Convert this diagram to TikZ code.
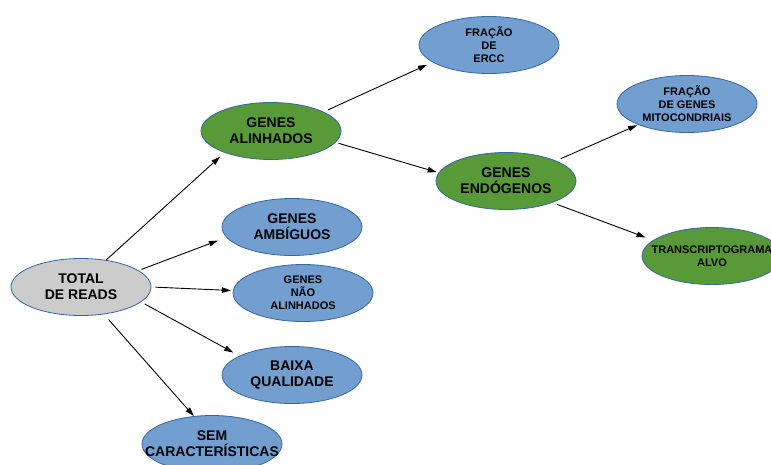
\documentclass[tikz,border=0pt]{standalone}
\usepackage{fontspec}
\setmainfont{Liberation Sans}
\usetikzlibrary{shapes.geometric,arrows.meta}
\definecolor{edgeblue}{HTML}{3465A4}
\definecolor{fillblue}{HTML}{729FCF}
\definecolor{fillgreen}{HTML}{589A38}
\definecolor{fillgray}{HTML}{CCCCCC}
\tikzset{
  ov/.style={ellipse, draw=edgeblue, line width=0.8pt, minimum width=140pt, minimum height=57pt, inner sep=0pt, align=center, text=black},
  bluev/.style={ov, fill=fillblue},
  greenv/.style={ov, fill=fillgreen},
  grayv/.style={ov, fill=fillgray},
  big/.style={font=\fontsize{14}{16}\selectfont\bfseries},
  small/.style={font=\fontsize{11}{13}\selectfont\bfseries},
  arr/.style={draw=black, line width=0.9pt, -{Triangle[length=9pt,width=5.5pt]}}
}
\begin{document}
\begin{tikzpicture}[x=1pt,y=-1pt]
\useasboundingbox (0,0) rectangle (771,464);
\node[grayv,big] (tot) at (81,287) {TOTAL\\DE READS};
\node[greenv,big] (alin) at (271,131) {GENES\\ALINHADOS};
\node[bluev,big] (amb) at (292,227) {GENES\\AMBÍGUOS};
\node[bluev,small] (nao) at (303,293) {GENES\\NÃO\\ALINHADOS};
\node[bluev,big] (baixa) at (292,375) {BAIXA\\QUALIDADE};
\node[bluev,big] (sem) at (212,444) {SEM\\\makebox[0pt]{CARACTERÍSTICAS}};
\node[bluev,small] (ercc) at (489,45) {FRAÇÃO\\DE\\ERCC};
\node[greenv,big] (endo) at (506,181) {GENES\\ENDÓGENOS};
\node[bluev,small] (mito) at (687,104) {FRAÇÃO\\DE GENES\\MITOCONDRIAIS};
\node[greenv,small] (trans) at (712,256) {\makebox[0pt]{TRANSCRIPTOGRAMA}\\ALVO};

\draw[arr, shorten >=6pt] (tot.47) -- (alin.205);
\draw[arr, shorten <=3pt, shorten >=9pt] (tot.16) -- (amb.189);
\draw[arr, shorten <=4pt, shorten >=2pt] (tot.0) -- (nao.178);
\draw[arr, shorten <=4pt, shorten >=7pt] (tot.-14) -- (baixa.160);
\draw[arr, shorten <=7pt] (tot.-50) -- (sem.123);
\draw[arr, shorten <=5pt, shorten >=6pt] (alin.20) -- (ercc.197);
\draw[arr, shorten <=3pt, shorten >=2pt] (alin.-10) -- (endo.173);
\draw[arr, shorten <=5pt, shorten >=1pt] (endo.22) -- (mito.203);
\draw[arr, shorten <=5pt, shorten >=8pt] (endo.-25) -- (trans.165);
\end{tikzpicture}
\end{document}
